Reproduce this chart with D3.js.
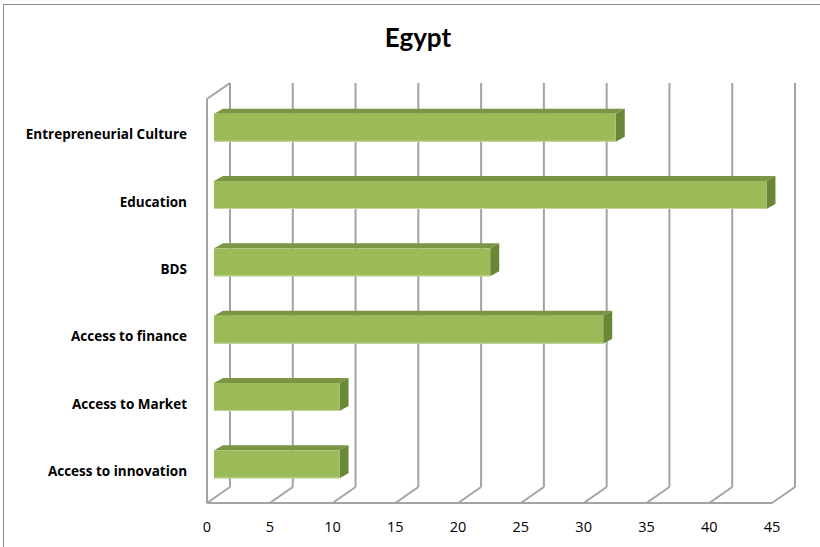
<!DOCTYPE html>
<html>
<head>
<meta charset="utf-8">
<script src="https://cdn.jsdelivr.net/npm/d3@7"></script>
<style>
  html, body { margin: 0; padding: 0; background: #fff; }
  svg { display: block; }
</style>
</head>
<body>
<svg id="chart" width="820" height="547"></svg>
<script>
// Survey scores per ecosystem pillar, Egypt
const categories = [
  "Entrepreneurial Culture",
  "Education",
  "BDS",
  "Access to finance",
  "Access to Market",
  "Access to innovation"
];
const values = [32, 44, 22, 31, 10, 10];
const ticks = [0, 5, 10, 15, 20, 25, 30, 35, 40, 45];
const title = "Egypt";

const svg = d3.select("#chart");

// Chart frame (left and top edges visible)
svg.append("rect")
  .attr("x", 3.5).attr("y", 4.5)
  .attr("width", 830).attr("height", 560)
  .attr("fill", "none").attr("stroke", "#8c8c8c").attr("stroke-width", 1);

svg.append("text")
  .attr("x", 418).attr("y", 47)
  .attr("text-anchor", "middle")
  .attr("font-family", "Lato, 'Open Sans', sans-serif")
  .attr("font-weight", "bold")
  .attr("font-size", 26)
  .attr("fill", "#000")
  .text(title);

// Front plane scales
const x = d3.scaleLinear().domain([0, 45]).range([207, 772]);
const y = d3.scaleBand().domain(categories).range([99, 503]).padding(0);

// Depth of the back wall (oblique projection)
const wallDx = 23, wallDy = -16;
const yTop = y.range()[0], yBottom = y.range()[1];

const gridColor = "#a3a3a3";
const grid = svg.append("g")
  .attr("fill", "none")
  .attr("stroke", gridColor)
  .attr("stroke-width", 2);

// Back-wall gridlines
grid.selectAll("line.v").data(ticks).join("line")
  .attr("class", "v")
  .attr("x1", d => x(d) + wallDx).attr("x2", d => x(d) + wallDx)
  .attr("y1", yTop + wallDy).attr("y2", yBottom + wallDy);

// Floor lines running from front to back
grid.selectAll("line.f").data(ticks).join("line")
  .attr("class", "f")
  .attr("x1", d => x(d)).attr("y1", yBottom)
  .attr("x2", d => x(d) + wallDx).attr("y2", yBottom + wallDy);

// Floor front edge
grid.append("line")
  .attr("x1", x(0)).attr("x2", x(45))
  .attr("y1", yBottom).attr("y2", yBottom);

// Side wall outline
grid.append("polyline")
  .attr("points", [
    [x(0), yBottom], [x(0), yTop], [x(0) + wallDx, yTop + wallDy]
  ].map(p => p.join(",")).join(" "));

// Bars: front face sits slightly inside the wall depth
const barH = 28;
const f = { dx: 7, dy: -5 };   // front face offset
const b = { dx: 16, dy: -10 }; // back face offset

const bars = svg.append("g").selectAll("g.bar")
  .data(categories.map((c, i) => ({ c, v: values[i] })))
  .join("g").attr("class", "bar");

bars.each(function (d) {
  const g = d3.select(this);
  const yc = y(d.c) + y.bandwidth() / 2;
  const x0 = x(0) + f.dx, x1 = x(d.v) + f.dx;
  const y0 = yc - barH / 2 + f.dy, y1 = y0 + barH;
  const ddx = b.dx - f.dx, ddy = b.dy - f.dy;

  // top face
  g.append("polygon")
    .attr("points", [[x0, y0], [x1, y0], [x1 + ddx, y0 + ddy], [x0 + ddx, y0 + ddy]]
      .map(p => p.join(",")).join(" "))
    .attr("fill", "#7b9545");
  // end face
  g.append("polygon")
    .attr("points", [[x1, y0], [x1 + ddx, y0 + ddy], [x1 + ddx, y1 + ddy], [x1, y1]]
      .map(p => p.join(",")).join(" "))
    .attr("fill", "#6a8637");
  // front face
  g.append("rect")
    .attr("x", x0).attr("y", y0)
    .attr("width", x1 - x0).attr("height", barH)
    .attr("fill", "#9bbb59");
  g.append("line")
    .attr("x1", x0).attr("x2", x1)
    .attr("y1", y1 - 0.5).attr("y2", y1 - 0.5)
    .attr("stroke", "#c3d69b").attr("stroke-width", 1);
});

// Category labels
svg.append("g").selectAll("text").data(categories).join("text")
  .attr("x", 187)
  .attr("y", d => y(d) + y.bandwidth() / 2 + 6.5)
  .attr("text-anchor", "end")
  .attr("font-family", "'Open Sans', Lato, sans-serif")
  .attr("font-weight", "bold")
  .attr("font-size", 13.5)
  .attr("fill", "#000")
  .text(d => d);

// Value axis labels
svg.append("g").selectAll("text").data(ticks).join("text")
  .attr("x", d => x(d))
  .attr("y", 532)
  .attr("text-anchor", "middle")
  .attr("font-family", "'Open Sans', Lato, sans-serif")
  .attr("font-size", 14.5)
  .attr("fill", "#000")
  .text(d => d);
</script>
</body>
</html>
